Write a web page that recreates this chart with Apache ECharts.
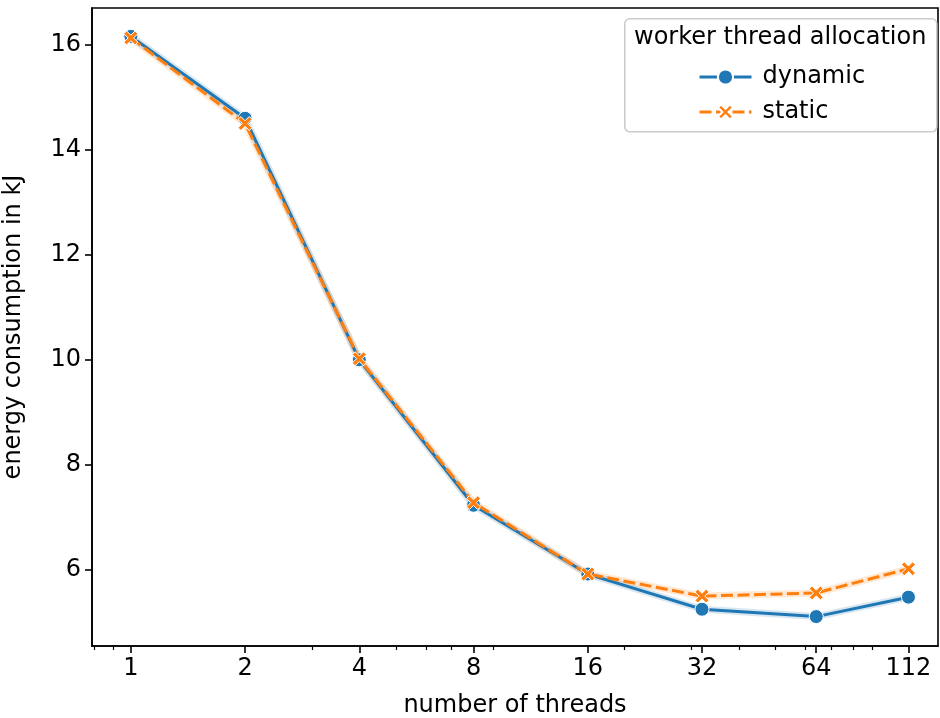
<!DOCTYPE html>
<html>
<head>
<meta charset="utf-8">
<script src="https://cdn.jsdelivr.net/npm/echarts@6/dist/echarts.min.js"></script>
<style>
  html, body { margin: 0; padding: 0; background: #fff; }
  #chart { width: 940px; height: 718px; }
</style>
</head>
<body>
<div id="chart"></div>
<script>
// Energy consumption per thread count, two allocation strategies
const threads = [1, 2, 4, 8, 16, 32, 64, 112];
const dynamicKJ = [16.16, 14.60, 10.00, 7.23, 5.92, 5.25, 5.11, 5.48];
const staticKJ  = [16.13, 14.50, 10.02, 7.28, 5.92, 5.50, 5.56, 6.02];
const yTicks = [6, 8, 10, 12, 14, 16];
// log-10 style minor ticks (2..9 × decade) shown on the base-2 axis
const minorTicks = [0.8, 0.9, 3, 5, 6, 7, 9, 20, 30, 40, 50, 60, 70, 80, 90];

const FONT = 'DejaVu Sans';
const FS = 24;
const BLUE = '#1f77b4';
const ORANGE = '#ff7f0e';

// x axis is a log2 scale: positions are log2(threads)
const lg = v => Math.log2(v);
const xMin = lg(0.79), xMax = lg(134);
const toPairs = vals => threads.map((t, i) => [lg(t), vals[i]]);

const X_SYMBOL = 'path://M0,2 L2,0 L5,3 L8,0 L10,2 L7,5 L10,8 L8,10 L5,7 L2,10 L0,8 L3,5 Z';

// faint band under each line
const band = (name, vals, color) => ({
  name: name + ' band', type: 'line', data: toPairs(vals), silent: true,
  symbol: 'none', lineStyle: { color, width: 7, opacity: 0.18 }, z: 1
});

const chart = echarts.init(document.getElementById('chart'), null, { renderer: 'canvas' });
chart.setOption({
  animation: false,
  backgroundColor: '#fff',
  textStyle: { fontFamily: FONT },
  grid: {
    left: 92, right: 2, top: 8, bottom: 72,
    outerBoundsMode: 'none', containLabel: false,
    show: true, borderColor: '#000', borderWidth: 1.6, backgroundColor: 'transparent'
  },
  xAxis: [{
    type: 'value', min: xMin, max: xMax,
    name: 'number of threads', nameLocation: 'middle', nameGap: 48,
    nameTextStyle: { fontFamily: FONT, fontSize: FS, color: '#000' },
    axisLine: { show: true, onZero: false, lineStyle: { color: '#000', width: 1.6 } },
    axisTick: { show: true, length: 7, lineStyle: { color: '#000', width: 1.6 },
                customValues: threads.map(lg) },
    axisLabel: { customValues: threads.map(lg), margin: 11,
                 formatter: v => String(Math.round(Math.pow(2, v))),
                 fontFamily: FONT, fontSize: FS, color: '#000' },
    splitLine: { show: false }
  }, {
    type: 'value', min: xMin, max: xMax, position: 'bottom',
    axisLine: { show: false, onZero: false },
    axisTick: { show: true, length: 4, lineStyle: { color: '#000', width: 1.2 },
                customValues: minorTicks.map(lg) },
    axisLabel: { show: false },
    splitLine: { show: false }
  }],
  yAxis: {
    type: 'value', min: 4.55, max: 16.70,
    name: 'energy consumption in kJ', nameLocation: 'middle', nameGap: 66,
    nameTextStyle: { fontFamily: FONT, fontSize: FS, color: '#000' },
    axisLine: { show: true, onZero: false, lineStyle: { color: '#000', width: 1.6 } },
    axisTick: { show: true, length: 7, lineStyle: { color: '#000', width: 1.6 },
                customValues: yTicks },
    axisLabel: { customValues: yTicks, margin: 11,
                 fontFamily: FONT, fontSize: FS, color: '#000' },
    splitLine: { show: false }
  },
  legend: {
    orient: 'vertical', left: 693, top: 58, itemWidth: 52, itemHeight: 19, itemGap: 7,
    z: 60,
    data: ['dynamic', 'static'],
    lineStyle: { width: 3 },
    textStyle: { fontFamily: FONT, fontSize: FS, color: '#000', padding: [0, 0, 0, 6], lineHeight: 28 }
  },
  graphic: [{
    type: 'rect', left: 624, top: 18, z: 50,
    shape: { width: 312, height: 113, r: 5 },
    style: { fill: 'rgba(255,255,255,0.8)', stroke: '#cccccc', lineWidth: 1.6 }
  }, {
    type: 'text', left: 634, top: 26, z: 51,
    style: { text: 'worker thread allocation', fontFamily: FONT, fontSize: FS, fill: '#000' }
  }],
  series: [
    band('dynamic', dynamicKJ, BLUE),
    band('static', staticKJ, ORANGE),
    {
      name: 'dynamic', type: 'line', data: toPairs(dynamicKJ),
      symbol: 'circle', symbolSize: 14,
      lineStyle: { color: BLUE, width: 3 },
      itemStyle: { color: BLUE, borderColor: '#fff', borderWidth: 1 },
      z: 2
    }, {
      name: 'static', type: 'line', data: toPairs(staticKJ),
      symbol: X_SYMBOL, symbolSize: 14,
      lineStyle: { color: ORANGE, width: 3, type: [12, 4.5] },
      itemStyle: { color: ORANGE, borderColor: '#fff', borderWidth: 1 },
      z: 3
    }
  ]
});
</script>
</body>
</html>
